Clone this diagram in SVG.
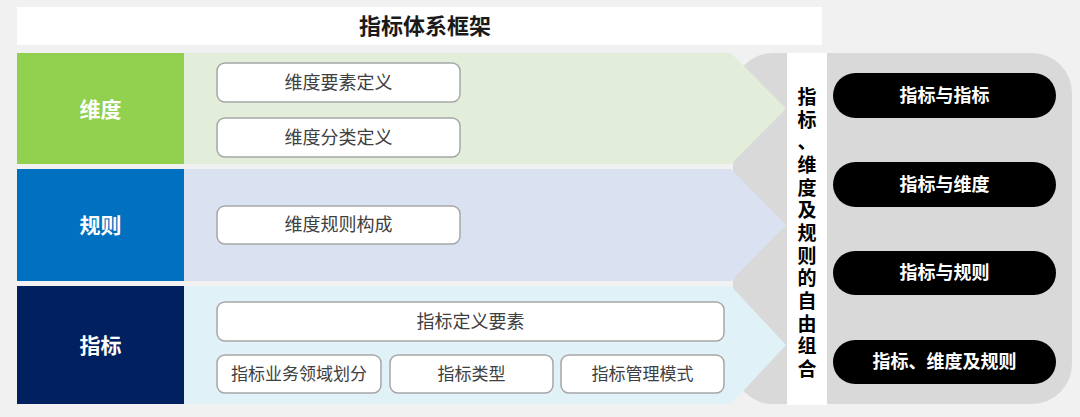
<svg xmlns="http://www.w3.org/2000/svg" width="1080" height="417" viewBox="0 0 1080 417">
<style>
text{font-family:"Liberation Sans","Noto Sans CJK SC",sans-serif;text-anchor:middle;dominant-baseline:central}
.box{fill:#ffffff;stroke:#a6a6a6;stroke-width:1.5}
.bt{font-size:18px;fill:#404040}
.bs{font-size:17px;fill:#404040}
.lbl{font-size:21px;font-weight:bold;fill:#ffffff}
.pill{fill:#000000}
.pt{font-size:18px;font-weight:bold;fill:#ffffff}
.vt{font-size:19px;font-weight:bold;fill:#000000}
</style>
<rect x="0" y="0" width="1080" height="417" fill="#f1f1f1"/>
<g id="title">
<rect x="17" y="7" width="805" height="38" fill="#ffffff"/>
<text x="425" y="26" style="font-size:22px;font-weight:bold;fill:#1a1a1a">指标体系框架</text>
</g>
<g id="combo-panel">
<rect x="733" y="53" width="339" height="351" rx="40" ry="40" fill="#d9d9d9"/>
</g>
<g id="dim-row">
<polygon points="184,53 731,53 786,108.5 731,164 184,164" fill="#e2eeda"/>
<rect x="17" y="53" width="167" height="111" fill="#92d050"/>
<text class="lbl" x="100.5" y="109">维度</text>
</g>
<g id="rule-row">
<polygon points="184,169 731,169 786,225 731,281 184,281" fill="#dae2f2"/>
<rect x="17" y="169" width="167" height="112" fill="#0070c0"/>
<text class="lbl" x="100.5" y="225">规则</text>
</g>
<g id="metric-row">
<polygon points="184,286 731,286 786,345 731,404 184,404" fill="#e1f1f8"/>
<rect x="17" y="286" width="167" height="118" fill="#002060"/>
<text class="lbl" x="100.5" y="345">指标</text>
</g>
<g id="n-dim-elem"><rect class="box" x="217" y="63" width="243" height="39" rx="8"/><text class="bt" x="338.5" y="82.5">维度要素定义</text></g>
<g id="n-dim-class"><rect class="box" x="217" y="118" width="243" height="39" rx="8"/><text class="bt" x="338.5" y="137.5">维度分类定义</text></g>
<g id="n-dim-rule"><rect class="box" x="217" y="206" width="243" height="38" rx="8"/><text class="bt" x="338.5" y="225">维度规则构成</text></g>
<g id="n-metric-def"><rect class="box" x="217" y="302" width="507" height="39" rx="8"/><text class="bt" x="470.5" y="321.5">指标定义要素</text></g>
<g id="n-metric-domain"><rect class="box" x="217" y="355" width="164" height="38" rx="8"/><text class="bs" x="299" y="374">指标业务领域划分</text></g>
<g id="n-metric-type"><rect class="box" x="390" y="355" width="163" height="38" rx="8"/><text class="bs" x="471.5" y="374">指标类型</text></g>
<g id="n-metric-mode"><rect class="box" x="561" y="355" width="163" height="38" rx="8"/><text class="bs" x="642.5" y="374">指标管理模式</text></g>
<g id="vertical-label">
<rect x="787" y="53" width="40" height="352" fill="#ffffff"/>
<text class="vt"><tspan x="807" y="97">指</tspan><tspan x="807" y="119.7">标</tspan><tspan x="807" y="142.3">、</tspan><tspan x="807" y="165">维</tspan><tspan x="807" y="187.7">度</tspan><tspan x="807" y="210.3">及</tspan><tspan x="807" y="233">规</tspan><tspan x="807" y="255.7">则</tspan><tspan x="807" y="278.3">的</tspan><tspan x="807" y="301">自</tspan><tspan x="807" y="323.7">由</tspan><tspan x="807" y="346.3">组</tspan><tspan x="807" y="369">合</tspan></text>
</g>
<g id="p-mm"><rect class="pill" x="833" y="73" width="223" height="45" rx="22.5"/><text class="pt" x="944.5" y="95.5">指标与指标</text></g>
<g id="p-md"><rect class="pill" x="833" y="162" width="223" height="45" rx="22.5"/><text class="pt" x="944.5" y="184.5">指标与维度</text></g>
<g id="p-mr"><rect class="pill" x="833" y="251" width="223" height="44" rx="22"/><text class="pt" x="944.5" y="273">指标与规则</text></g>
<g id="p-all"><rect class="pill" x="833" y="340" width="223" height="44" rx="22"/><text class="pt" x="944.5" y="362">指标、维度及规则</text></g>
<g id="connectors"></g>
</svg>
